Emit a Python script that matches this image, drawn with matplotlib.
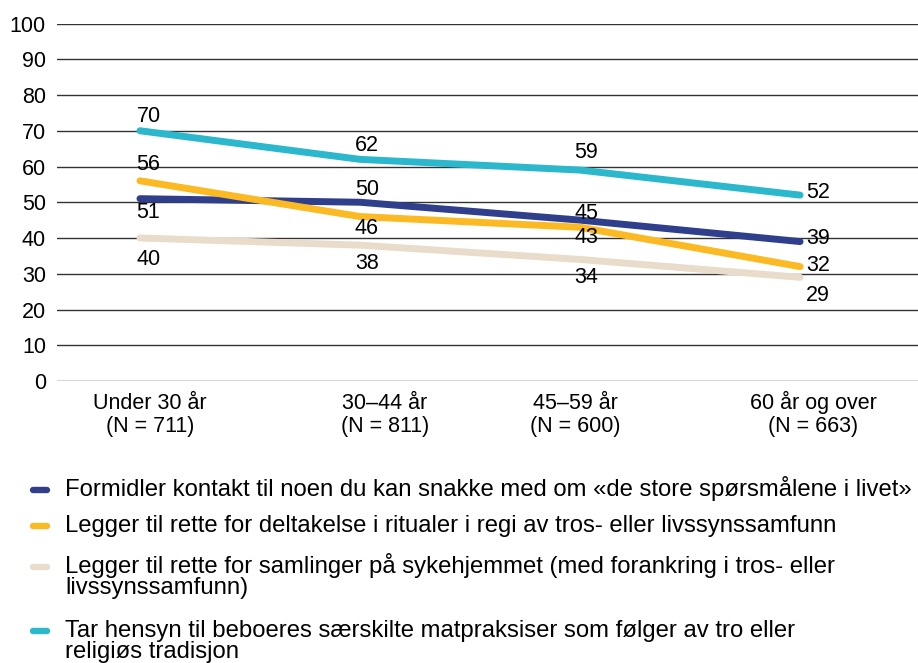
import matplotlib
matplotlib.use("Agg")
import matplotlib.pyplot as plt
from matplotlib.lines import Line2D
import matplotlib.transforms as mtrans

plt.rcParams['font.family'] = ['Liberation Sans', 'DejaVu Sans']

categories = ["Under 30 år\n(N = 711)", "30–44 år\n(N = 811)", "45–59 år\n(N = 600)", "60 år og over\n(N = 663)"]
series_names = [
    "Formidler kontakt til noen du kan snakke med om «de store spørsmålene i livet»",
    "Legger til rette for deltakelse i ritualer i regi av tros- eller livssynssamfunn",
    "Legger til rette for samlinger på sykehjemmet (med forankring i tros- eller\nlivssynssamfunn)",
    "Tar hensyn til beboeres særskilte matpraksiser som følger av tro eller\nreligiøs tradisjon",
]
kontakt = [51, 50, 45, 39]
ritualer = [56, 46, 43, 32]
samlinger = [40, 38, 34, 29]
matpraksis = [70, 62, 59, 52]
yticks = [0, 10, 20, 30, 40, 50, 60, 70, 80, 90, 100]

series = [kontakt, ritualer, samlinger, matpraksis]
colors = ["#2f3f8c", "#fbb923", "#eadccb", "#2bb7cc"]
# value-label vertical offsets from the point, in pixels (positive = up)
label_dy = [
    [-14, 13, 7, 3.5],
    [16, -12, -10, 1.5],
    [-21.5, -18, -18.5, -17.7],
    [14.7, 14, 18, 3],
]
col_dx = [8.5, 7, 6, 6]          # horizontal offset in pixels per column
col_ha = ['center', 'center', 'center', 'left']
tick_offsets = [0.045, 0.114, -0.02, 0.06]

W, H = 918, 663
fig = plt.figure(figsize=(W/100, H/100), dpi=100)
ax = fig.add_axes([57/W, (H-381)/H, 1 - 57/W, (381-23.5)/H])
ax.set_xlim(-0.377, 3.536)
ax.set_ylim(0, 100)
for s in ax.spines.values():
    s.set_visible(False)
ax.set_yticks(yticks)
ax.set_yticklabels([str(v) for v in yticks])
ax.tick_params(axis='y', length=0, pad=8, labelsize=15.5, colors='black')
ax.grid(axis='y', color='#333333', lw=1.0)
ax.set_axisbelow(True)
xs = list(range(len(categories)))
ax.set_xticks([])

fs = 15.5
# category labels (two lines each, baselines in pixels from top)
xlab_base = [409, 432]
btr = mtrans.blended_transform_factory(ax.transData, fig.transFigure)
for x, o, cat in zip(xs, tick_offsets, categories):
    for i, part in enumerate(cat.split("\n")):
        ax.text(x + o, (H - xlab_base[i]) / H, part, transform=btr, ha='center',
                va='baseline', fontsize=fs)

for vals, col, dys in zip(series, colors, label_dy):
    ax.plot(xs, vals, color=col, lw=5, solid_capstyle='round', solid_joinstyle='round', zorder=3)
    for x, v, dy, dx, ha in zip(xs, vals, dys, col_dx, col_ha):
        off = mtrans.offset_copy(ax.transData, fig=fig, x=dx, y=dy, units='dots')
        ax.text(x, v, str(v), transform=off, ha=ha, va='center', fontsize=fs, zorder=4)

# legend drawn manually (first-line baselines and handle centres, in pixels from top)
leg_base = [496, 532, 573, 637]
line_gap = 21
for name, col, yb in zip(series_names, colors, leg_base):
    yh = (H - (yb - 6.5)) / H
    fig.add_artist(Line2D([33/W, 47/W], [yh, yh], color=col, lw=4.6, solid_capstyle='round'))
    for i, part in enumerate(name.split("\n")):
        fig.text(65/W, (H - (yb + i*line_gap))/H, part, ha='left', va='baseline', fontsize=17.2)

fig.savefig("out.png", dpi=100)
